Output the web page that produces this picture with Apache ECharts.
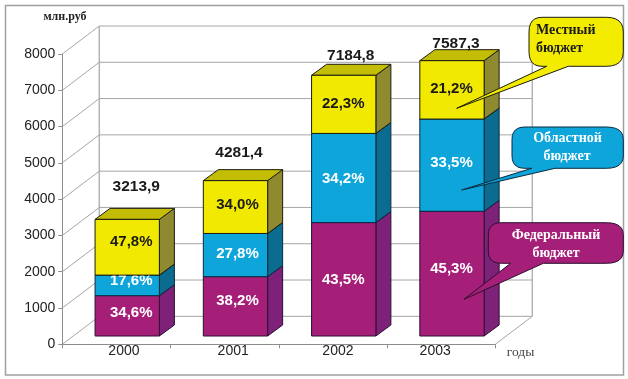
<!DOCTYPE html>
<html>
<head>
<meta charset="utf-8">
<style>html,body{margin:0;padding:0;background:#fff}#c{width:628px;height:379px}</style>
<script src="https://cdn.jsdelivr.net/npm/echarts@6/dist/echarts.min.js"></script>
</head>
<body>
<div id="c"></div>
<script>
// ---- data ----
const years = ['2000', '2001', '2002', '2003'];
const totals = [3213.9, 4281.4, 7184.8, 7587.3];
const federalShare = [34.6, 38.2, 43.5, 45.3];
const regionalShare = [17.6, 27.8, 34.2, 33.5];
const localShare = [47.8, 34.0, 22.3, 21.2];
const yTicks = [0, 1000, 2000, 3000, 4000, 5000, 6000, 7000, 8000];

// ---- layout of the pseudo-3D drawing (pixels) ----
const WALL = [37, -28];       // front plane -> back wall
const BAR_FRONT = [10.8, -8.3]; // front plane -> front face of the bars
const BAR_DEPTH = [15, -11];  // front face -> back face of a bar
const BAR_RATIO = 0.594;
const LABEL_DX = [4, 2, -0.5, -0.5];
const LABEL_DY = {
  federal: [-3, -5.5, 1, -4.4],
  regional: [-4.4, -1, 1, -2],
  local: [-5.5, -2, 0, -0.6]
};
const TOTAL_DX = [9, 3.5, 7, 4];
const TOTAL_DY = [-33, -27.6, -20, -16.6];
const GRID_COL = '#a6a6a6';

const FACE = {
  federal: { front: '#a51f78', side: '#7d2278', top: '#8c1f70', text: '#ffffff', edge: '#2a0f30' },
  regional: { front: '#0ea5db', side: '#0c6c90', top: '#0b86b2', text: '#ffffff', edge: '#0a2a40' },
  local: { front: '#f2e900', side: '#8f8a30', top: '#c4bd06', text: '#1a1a1a', edge: '#1c1c10' }
};

function pct(v) { return v.toFixed(1).replace('.', ',') + '%'; }

// stack the shares of each total into [index, from, to, share]
function segments(shares, below) {
  return years.map(function (y, i) {
    const from = below.reduce(function (s, arr) { return s + arr[i]; }, 0) * totals[i] / 100;
    return [i, from, from + shares[i] * totals[i] / 100, shares[i]];
  });
}

function barItem(kind) {
  const c = FACE[kind];
  return function (params, api) {
    const i = api.value(0);
    const bw = api.size([1, 0])[0] * BAR_RATIO;
    const p0 = api.coord([i, api.value(1)]);
    const p1 = api.coord([i, api.value(2)]);
    const l = p0[0] - bw / 2 + BAR_FRONT[0], r = l + bw;
    const b = p0[1] + BAR_FRONT[1], t = p1[1] + BAR_FRONT[1];
    const dx = BAR_DEPTH[0], dy = BAR_DEPTH[1];
    const line = { stroke: c.edge, lineWidth: 1 };
    return {
      type: 'group',
      children: [
        { type: 'polygon', shape: { points: [[r, b], [r + dx, b + dy], [r + dx, t + dy], [r, t]] },
          style: Object.assign({ fill: c.side }, line) },
        { type: 'polygon', shape: { points: [[l, t], [r, t], [r + dx, t + dy], [l + dx, t + dy]] },
          style: Object.assign({ fill: c.top }, line) },
        { type: 'rect', shape: { x: l, y: t, width: bw, height: b - t },
          style: Object.assign({ fill: c.front }, line) },
        { type: 'text', z2: 20,
          style: { text: pct(api.value(3)), x: (l + r) / 2 + LABEL_DX[i], y: (t + b) / 2 + LABEL_DY[kind][i],
            fill: c.text, font: 'bold 15px "Liberation Sans"', textAlign: 'center', textVerticalAlign: 'middle' } }
      ]
    };
  };
}

function totalItem(params, api) {
  const i = api.value(0);
  const p = api.coord([i, api.value(1)]);
  return {
    type: 'text',
    style: { text: String(api.value(1).toFixed(1)).replace('.', ','),
      x: p[0] + BAR_FRONT[0] + TOTAL_DX[i], y: p[1] + BAR_FRONT[1] + TOTAL_DY[i],
      fill: '#1a1a1a', font: 'bold 15.5px "Liberation Sans"', textAlign: 'center', textVerticalAlign: 'middle' }
  };
}

function wallItem(params, api) {
  const cs = params.coordSys;
  const v = api.value(0);
  const y = api.coord([0, v])[1];
  const x0 = cs.x, x1 = cs.x + cs.width;
  const st = { stroke: GRID_COL, lineWidth: 1, fill: null };
  const kids = [
    { type: 'line', shape: { x1: x0, y1: y, x2: x0 + WALL[0], y2: y + WALL[1] }, style: st },
    { type: 'line', shape: { x1: x0 + WALL[0], y1: y + WALL[1], x2: x1 + WALL[0], y2: y + WALL[1] }, style: st }
  ];
  if (v === 0) {
    kids.push({ type: 'line', shape: { x1: x1, y1: y, x2: x1 + WALL[0], y2: y + WALL[1] }, style: st });
    const top = api.coord([0, yTicks[yTicks.length - 1]])[1] + WALL[1];
    const wallSt = { stroke: '#b4b4b4', lineWidth: 1.5, fill: null };
    kids.push({ type: 'line', shape: { x1: x0 + WALL[0], y1: y + WALL[1], x2: x0 + WALL[0], y2: top }, style: wallSt });
    kids.push({ type: 'line', shape: { x1: x1 + WALL[0], y1: y + WALL[1], x2: x1 + WALL[0], y2: top }, style: wallSt });
  }
  return { type: 'group', children: kids };
}

// rounded callout outline with a tail on its lower edge
function callout(l, t, r, b, base1, base2, tip) {
  const pts = [];
  function corner(a, c, e) {
    for (let k = 0; k <= 6; k++) {
      const u = k / 6, w = 1 - u;
      pts.push([w * w * a[0] + 2 * w * u * c[0] + u * u * e[0], w * w * a[1] + 2 * w * u * c[1] + u * u * e[1]]);
    }
  }
  const rxL = 13, rxR = 17, ry = (b - t) * 0.3;
  corner([l, t + ry], [l, t], [l + rxL, t]);
  corner([r - rxR, t], [r, t], [r, t + ry]);
  corner([r, b - ry], [r, b], [r - rxR, b]);
  pts.push([base2, b], tip, [base1, b]);
  corner([l + rxL, b], [l, b], [l, b - ry]);
  return pts;
}

function calloutGraphic(pts, fill, edge) {
  return { type: 'polygon', z: 50, shape: { points: pts }, style: { fill: fill, stroke: edge, lineWidth: 1 } };
}
function txt(text, x, y, fill, font, align) {
  return { type: 'text', z: 60, style: { text: text, x: x, y: y, fill: fill, font: font,
    textAlign: align || 'center', textVerticalAlign: 'middle' } };
}

const CALL_FONT = 'bold 14px "Liberation Serif"';

const chart = echarts.init(document.getElementById('c'), null, { renderer: 'canvas' });
chart.setOption({
  animation: false,
  backgroundColor: '#ffffff',
  grid: { left: 62.3, right: 132.7, top: 54, bottom: 34.7, containLabel: false },
  xAxis: {
    type: 'category', data: years, boundaryGap: true,
    axisLine: { show: true, lineStyle: { color: '#8c8c8c', width: 1 } },
    axisTick: { show: true, length: 4, lineStyle: { color: '#8c8c8c' } },
    axisLabel: {
      margin: 0, color: '#222', fontFamily: 'Liberation Sans', fontSize: 14,
      formatter: function (v) { return '{y' + v + '|' + v + '}'; },
      rich: {
        y2000: { padding: [0, 0, 0, 15], fontSize: 14, color: '#222', fontFamily: 'Liberation Sans' },
        y2001: { padding: [0, 0, 0, 17], fontSize: 14, color: '#222', fontFamily: 'Liberation Sans' },
        y2002: { padding: [0, 0, 0, 10], fontSize: 14, color: '#222', fontFamily: 'Liberation Sans' },
        y2003: { padding: [0, 12, 0, 0], fontSize: 14, color: '#222', fontFamily: 'Liberation Sans' }
      }
    },
    splitLine: { show: false }
  },
  yAxis: {
    type: 'value', min: 0, max: 8000, interval: 1000,
    axisLine: { show: true, lineStyle: { color: '#8c8c8c', width: 1 } },
    axisTick: { show: true, length: 4, lineStyle: { color: '#8c8c8c' } },
    axisLabel: { margin: 7, color: '#222', fontFamily: 'Liberation Sans', fontSize: 14,
      formatter: function (v) { return String(v); } },
    splitLine: { show: false }
  },
  series: [
    { type: 'custom', name: 'walls', z: 1, renderItem: wallItem, silent: true,
      data: yTicks.map(function (v) { return [v]; }), encode: { y: 0 } },
    { type: 'custom', name: 'Федеральный бюджет', z: 3, renderItem: barItem('federal'),
      data: segments(federalShare, []), encode: { x: 0, y: [1, 2] } },
    { type: 'custom', name: 'Областной бюджет', z: 4, renderItem: barItem('regional'),
      data: segments(regionalShare, [federalShare]), encode: { x: 0, y: [1, 2] } },
    { type: 'custom', name: 'Местный бюджет', z: 5, renderItem: barItem('local'),
      data: segments(localShare, [federalShare, regionalShare]), encode: { x: 0, y: [1, 2] } },
    { type: 'custom', name: 'Итого', z: 6, renderItem: totalItem,
      data: totals.map(function (v, i) { return [i, v]; }), encode: { x: 0, y: 1 } }
  ],
  graphic: [
    { type: 'rect', z: -1, shape: { x: 5.5, y: 5.5, width: 618, height: 369.5 },
      style: { fill: null, stroke: '#a0a0a0', lineWidth: 1.5 } },
    txt('млн.руб', 65, 17, '#222', 'bold 12px "Liberation Serif"'),
    txt('годы', 520.5, 352, '#444', '13.5px "Liberation Serif"'),
    calloutGraphic(callout(529, 17.3, 623.3, 66.3, 546.7, 568.3, [456.7, 108.3]), '#f4ec00', '#1c1c10'),
    txt('Местный', 536, 30, '#1a1a1a', CALL_FONT, 'left'),
    txt('бюджет', 536, 48, '#1a1a1a', CALL_FONT, 'left'),
    calloutGraphic(callout(512, 127, 623.3, 168.3, 531.7, 555, [461.7, 190]), '#0ea5db', '#0a2a40'),
    txt('Областной', 567.5, 138, '#ffffff', CALL_FONT),
    txt('бюджет', 567, 156.7, '#ffffff', CALL_FONT),
    calloutGraphic(callout(488.3, 222.7, 623.3, 263.3, 510.7, 543.3, [464, 299.3]), '#a51f78', '#2a0f30'),
    txt('Федеральный', 556, 235, '#ffffff', CALL_FONT),
    txt('бюджет', 556, 253, '#ffffff', CALL_FONT)
  ]
});
</script>
</body>
</html>
